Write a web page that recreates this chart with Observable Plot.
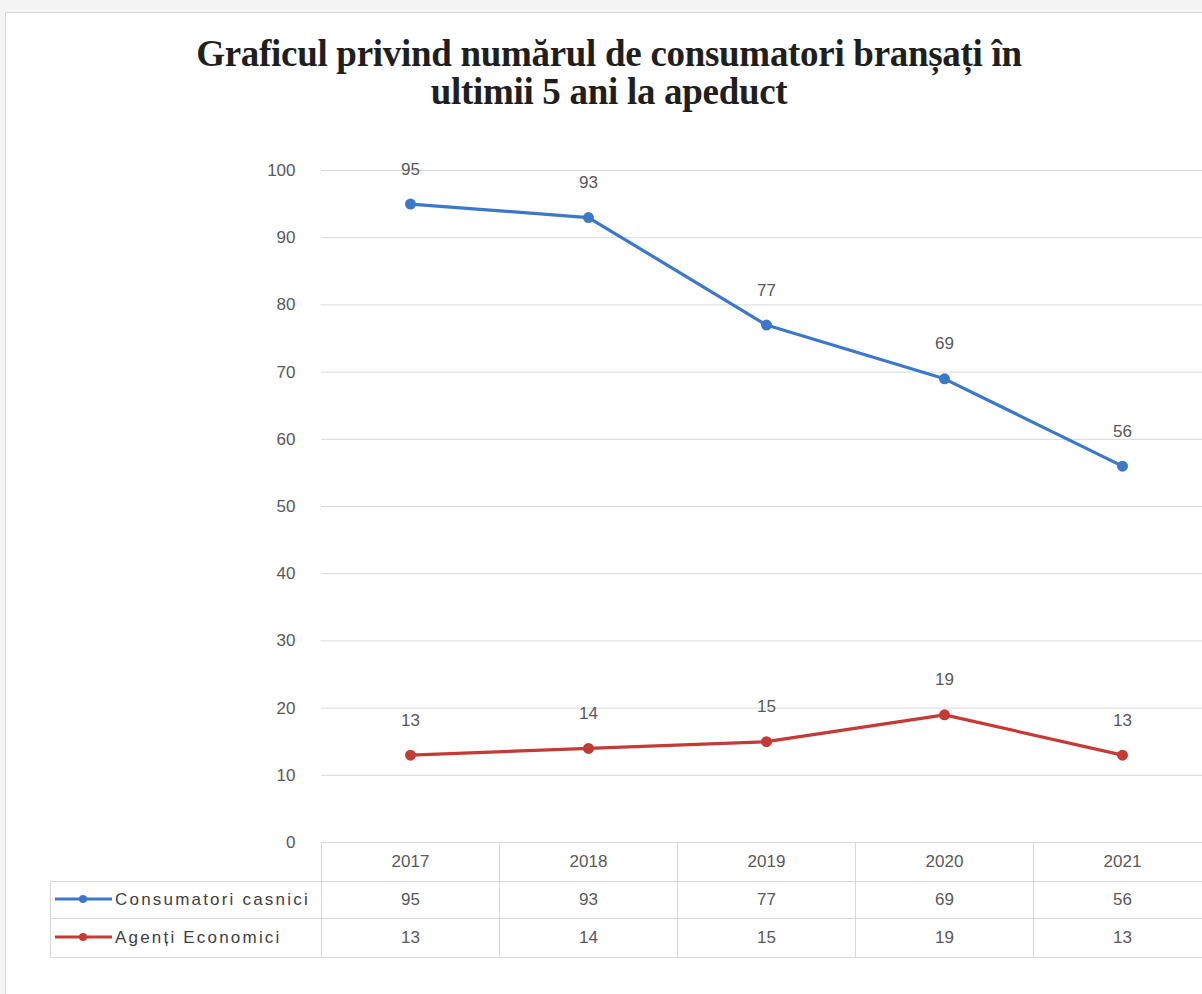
<!DOCTYPE html>
<html>
<head>
<meta charset="utf-8">
<script src="https://cdn.jsdelivr.net/npm/d3@7"></script>
<script src="https://cdn.jsdelivr.net/npm/@observablehq/plot@0.6"></script>
<style>
html, body { margin: 0; padding: 0; width: 1202px; height: 994px; overflow: hidden; background: #f4f4f4; }
#frame { position: absolute; left: 5px; top: 12px; width: 1240px; height: 1000px; background: #fff;
  border-left: 1px solid #d6d6d6; border-top: 1px solid #d6d6d6; }
#title { width: 1206px; height: 76px; padding-top: 22px; margin-bottom: -1px; text-align: center;
  font-family: "Liberation Serif", serif; font-weight: bold; font-size: 37px; line-height: 38px; color: #1f1f1f; letter-spacing: -0.3px; }
#chart svg { display: block; max-width: none; }
#tbl { border-collapse: collapse; margin-left: 44px; font-family: "Liberation Sans", sans-serif; font-size: 17px; color: #595959; table-layout: fixed; }
#tbl td { border: 1px solid #d9d9d9; text-align: center; padding: 0; height: 37px; box-sizing: border-box; }
#tbl tr.head td { border-top: none; height: 38px; }
#tbl tr.last td { height: 39px; }
#tbl tr.head td.corner { border-left: none; }
#tbl td.leg { text-align: left; color: #404040; letter-spacing: 2.2px; white-space: nowrap; padding-left: 4px; }
#tbl td.leg svg { vertical-align: middle; margin-right: 3px; position: relative; top: -1px; }
</style>
</head>
<body>
<div id="frame">
  <div id="title">Graficul privind numărul de consumatori branșați în<br>ultimii 5 ani la apeduct</div>
  <div id="chart"></div>
  <table id="tbl"></table>
</div>
<script>
// ---- data ----
const years = ["2017", "2018", "2019", "2020", "2021"];
const seriesNames = ["Consumatori casnici", "Agenți Economici"];
const consumatoriCasnici = [95, 93, 77, 69, 56];
const agentiEconomici = [13, 14, 15, 19, 13];
const yTicks = [0, 10, 20, 30, 40, 50, 60, 70, 80, 90, 100];
const seriesColors = ["#3b78c9", "#c63a36"];

const seriesValues = [consumatoriCasnici, agentiEconomici];
const rows = [];
seriesNames.forEach((s, i) => years.forEach((y, j) => rows.push({series: s, year: y, value: seriesValues[i][j]})));

const chart = Plot.plot({
  width: 1225,
  height: 733,
  marginLeft: 315,
  marginRight: 20,
  marginTop: 60,
  marginBottom: 1,
  style: {fontFamily: "Liberation Sans, sans-serif", fontSize: "17px", color: "#595959", background: "#fff", overflow: "visible"},
  x: {type: "point", domain: years, padding: 0.5, axis: null},
  y: {domain: [0, 100], ticks: yTicks, tickSize: 0, tickPadding: 26, label: null},
  color: {domain: seriesNames, range: seriesColors},
  marks: [
    Plot.ruleY(yTicks, {stroke: "#d9d9d9", strokeWidth: 1}),
    Plot.line(rows, {x: "year", y: "value", z: "series", stroke: "series", strokeWidth: 3.2}),
    Plot.dot(rows, {x: "year", y: "value", fill: "series", r: 5.5}),
    Plot.text(rows, {x: "year", y: "value", text: d => String(d.value), dy: -35, fill: "#595959", fontSize: 17})
  ]
});
chart.style.maxWidth = "none";
document.getElementById("chart").appendChild(chart);

// ---- data table below the plot, column widths from the x scale ----
const xs = chart.scale("x");
const step = xs.apply(years[1]) - xs.apply(years[0]);
const firstColLeft = 50 - 6;              // frame inner offset
const plotLeft = xs.apply(years[0]) - step / 2;
const colorScale = chart.scale("color");

const tbl = document.getElementById("tbl");
const colgroup = document.createElement("colgroup");
const c0 = document.createElement("col");
c0.style.width = (plotLeft - firstColLeft) + "px";
colgroup.appendChild(c0);
years.forEach(() => { const c = document.createElement("col"); c.style.width = step + "px"; colgroup.appendChild(c); });
tbl.appendChild(colgroup);

const head = document.createElement("tr");
head.className = "head";
const corner = document.createElement("td");
corner.className = "corner";
head.appendChild(corner);
years.forEach(y => { const td = document.createElement("td"); td.textContent = y; head.appendChild(td); });
tbl.appendChild(head);

seriesNames.forEach((s, i) => {
  const tr = document.createElement("tr");
  if (i === seriesNames.length - 1) tr.className = "last";
  const td = document.createElement("td");
  td.className = "leg";
  const col = colorScale.apply(s);
  td.innerHTML = `<svg width="57" height="12"><line x1="0" x2="57" y1="6" y2="6" stroke="${col}" stroke-width="3"/><circle cx="28" cy="6" r="4" fill="${col}"/></svg>` + s;
  tr.appendChild(td);
  seriesValues[i].forEach(v => { const c = document.createElement("td"); c.textContent = v; tr.appendChild(c); });
  tbl.appendChild(tr);
});
</script>
</body>
</html>
